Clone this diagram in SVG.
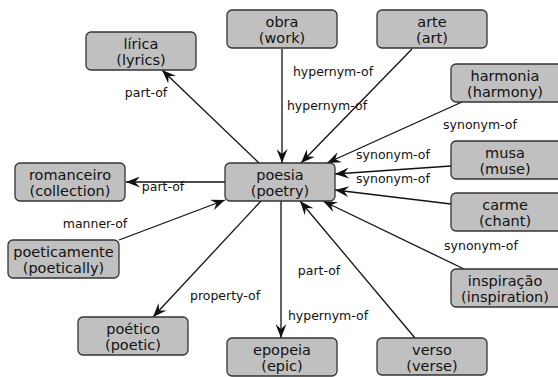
<svg xmlns="http://www.w3.org/2000/svg" width="558" height="377" viewBox="0 0 558 377">
<style>
.n rect{fill:#c0c0c0;stroke:#333;stroke-width:1.3}
.n text{font-family:"DejaVu Sans",sans-serif;font-size:14.5px;text-anchor:middle;fill:#111}
.e line{stroke:#111;stroke-width:1.3;marker-end:url(#a)}
.e text{font-family:"DejaVu Sans",sans-serif;font-size:12.5px;text-anchor:middle;fill:#111}
</style>
<defs>
<marker id="a" markerUnits="userSpaceOnUse" markerWidth="15" markerHeight="11" viewBox="0 0 15 11" refX="14" refY="5.5" orient="auto">
<path d="M0,0 L14,5.5 L0,11 L5,5.5 z" fill="#111"/>
</marker>
</defs>
<rect width="558" height="377" fill="#fff"/>
<g class="e">
<line x1="259" y1="163" x2="162" y2="70"/>
<line x1="225" y1="182" x2="126" y2="182"/>
<line x1="119" y1="240" x2="225" y2="200"/>
<line x1="261" y1="201" x2="153" y2="317"/>
<line x1="281" y1="201" x2="281" y2="338"/>
<line x1="415" y1="338" x2="300" y2="201"/>
<line x1="464" y1="269" x2="323" y2="201"/>
<line x1="451" y1="204" x2="335" y2="190"/>
<line x1="451" y1="166" x2="335" y2="174"/>
<line x1="462" y1="102" x2="327" y2="163"/>
<line x1="412" y1="49" x2="301" y2="163"/>
<line x1="282" y1="49" x2="282" y2="163"/>
<text x="146" y="97">part-of</text>
<text x="333" y="76">hypernym-of</text>
<text x="327" y="110">hypernym-of</text>
<text x="480" y="129">synonym-of</text>
<text x="393" y="159">synonym-of</text>
<text x="393" y="183">synonym-of</text>
<text x="163" y="191">part-of</text>
<text x="95" y="228">manner-of</text>
<text x="225" y="300">property-of</text>
<text x="319" y="275">part-of</text>
<text x="328" y="320">hypernym-of</text>
<text x="481" y="250">synonym-of</text>
</g>
<g class="n" id="poesia"><rect x="225" y="163" width="110" height="38" rx="5"/><text x="280" y="179.5">poesia</text><text x="280" y="196">(poetry)</text></g>
<g class="n" id="lirica"><rect x="86" y="32" width="110" height="38" rx="5"/><text x="141" y="48.5">lírica</text><text x="141" y="65">(lyrics)</text></g>
<g class="n" id="obra"><rect x="227" y="10" width="110" height="38" rx="5"/><text x="282" y="26.5">obra</text><text x="282" y="43">(work)</text></g>
<g class="n" id="arte"><rect x="377" y="10" width="110" height="38" rx="5"/><text x="432" y="26.5">arte</text><text x="432" y="43">(art)</text></g>
<g class="n" id="harmonia"><rect x="451" y="64" width="112" height="38" rx="5"/><text x="505" y="80.5">harmonia</text><text x="505" y="97">(harmony)</text></g>
<g class="n" id="musa"><rect x="451" y="141" width="112" height="38" rx="5"/><text x="505" y="157.5">musa</text><text x="505" y="174">(muse)</text></g>
<g class="n" id="carme"><rect x="451" y="193" width="112" height="38" rx="5"/><text x="505" y="209.5">carme</text><text x="505" y="226">(chant)</text></g>
<g class="n" id="inspiracao"><rect x="451" y="269" width="112" height="38" rx="5"/><text x="505" y="285.5">inspiração</text><text x="505" y="302">(inspiration)</text></g>
<g class="n" id="verso"><rect x="377" y="338" width="110" height="37" rx="5"/><text x="432" y="354.5">verso</text><text x="432" y="371">(verse)</text></g>
<g class="n" id="epopeia"><rect x="227" y="338" width="110" height="38" rx="5"/><text x="282" y="354.5">epopeia</text><text x="282" y="371">(epic)</text></g>
<g class="n" id="poetico"><rect x="78" y="317" width="110" height="38" rx="5"/><text x="133" y="333.5">poético</text><text x="133" y="350">(poetic)</text></g>
<g class="n" id="poeticamente"><rect x="8" y="240" width="111" height="38" rx="5"/><text x="63.5" y="256.5">poeticamente</text><text x="63.5" y="273">(poetically)</text></g>
<g class="n" id="romanceiro"><rect x="15" y="163" width="110" height="38" rx="5"/><text x="70" y="179.5">romanceiro</text><text x="70" y="196">(collection)</text></g>
</svg>
